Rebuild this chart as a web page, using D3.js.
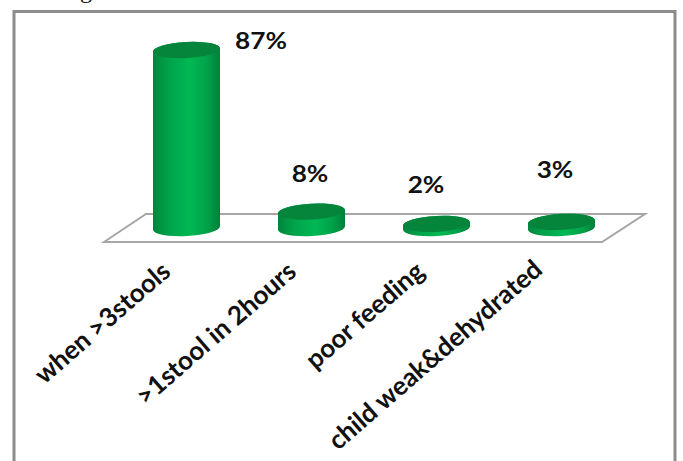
<!DOCTYPE html>
<html>
<head>
  <meta charset="utf-8">
  <title>Chart</title>
  <script src="https://d3js.org/d3.v7.min.js"></script>
  <style>
    body { margin: 0; background: #fff; overflow: hidden; }
    svg { display: block; }
    text { font-family: Lato, "Open Sans", sans-serif; font-weight: 700; fill: #111; }
  </style>
</head>
<body>
  <svg width="683" height="461"></svg>
  <script>
    var categories = ["when >3stools", ">1stool in 2hours", "poor feeding", "child weak&dehydrated"];
    var values = [87, 8, 2, 3];
    var yTicks = [0, 87];

    var svg = d3.select("svg");

    // Scales
    var xScale = d3.scaleBand()
      .domain(categories)
      .range([124, 624])
      .paddingInner(0.464)
      .paddingOuter(0.232);
    var yScale = d3.scaleLinear()
      .domain(d3.extent(yTicks))
      .range([228, 50]);

    // Cylinder shading
    var defs = svg.append("defs");
    var grad = defs.append("linearGradient").attr("id", "side");
    [[0, "#00853c"], [0.25, "#00a44c"], [0.55, "#00b853"], [0.8, "#00a349"], [1, "#007f3a"]].forEach(function(s) {
      grad.append("stop").attr("offset", s[0]).attr("stop-color", s[1]);
    });

    // Cut off line of the page text above the chart
    svg.append("text")
      .attr("x", 80).attr("y", -2)
      .style("font-family", "'Liberation Serif', serif")
      .style("font-weight", 400)
      .style("font-size", "24px")
      .text("g");

    // Outer frame
    svg.append("rect")
      .attr("x", 14).attr("y", 11.5)
      .attr("width", 661).attr("height", 460)
      .attr("fill", "#fff")
      .attr("stroke", "#8c8c8c")
      .attr("stroke-width", 3);

    // Floor
    var floor = d3.line();
    svg.append("path")
      .attr("d", floor([[104, 242], [146, 214], [645, 214], [602, 242]]) + "Z")
      .attr("fill", "#fff")
      .attr("stroke", "#a6a6a6")
      .attr("stroke-width", 2);

    // Cylinders, ellipses are tilted a bit like the 3D view
    var ry = 8, tilt = -3;
    var bars = svg.selectAll("g.bar")
      .data(categories)
      .enter()
      .append("g")
      .attr("class", "bar");

    bars.append("path")
      .attr("fill", "url(#side)")
      .attr("d", function(d, i) {
        var rx = xScale.bandwidth() / 2;
        var x0 = xScale(d), x1 = x0 + 2 * rx;
        var dy = rx * Math.tan(tilt * Math.PI / 180);
        var yb = yScale(0), yt = yScale(values[i]);
        return "M" + x0 + "," + (yt - dy) +
          "L" + x0 + "," + (yb - dy) +
          "A" + rx + "," + ry + " " + tilt + " 0 0 " + x1 + "," + (yb + dy) +
          "L" + x1 + "," + (yt + dy) +
          "A" + rx + "," + ry + " " + tilt + " 0 0 " + x0 + "," + (yt - dy) + "Z";
      });

    bars.append("ellipse")
      .attr("fill", "#04853b")
      .attr("rx", xScale.bandwidth() / 2)
      .attr("ry", ry)
      .attr("transform", function(d, i) {
        return "translate(" + (xScale(d) + xScale.bandwidth() / 2) + "," + yScale(values[i]) + ") rotate(" + tilt + ")";
      });

    // Value labels
    var labelX = [261, 310, 426, 555];
    var labelY = [49, 182, 193, 178];
    svg.selectAll("text.value")
      .data(values)
      .enter()
      .append("text")
      .attr("class", "value")
      .attr("text-anchor", "middle")
      .attr("transform", function(d, i) {
        return "translate(" + labelX[i] + "," + labelY[i] + ") scale(1.14,1)";
      })
      .style("font-size", "23px")
      .text(function(d) { return d + "%"; });

    // Category labels, rotated
    var catEndX = [172, 298, 426, 544];
    var catEndY = [274, 274, 274, 272];
    svg.selectAll("text.cat")
      .data(categories)
      .enter()
      .append("text")
      .attr("class", "cat")
      .attr("text-anchor", "end")
      .attr("transform", function(d, i) {
        return "translate(" + catEndX[i] + "," + catEndY[i] + ") rotate(-41)";
      })
      .style("font-size", "26px")
      .text(function(d) { return d; });
  </script>
</body>
</html>
